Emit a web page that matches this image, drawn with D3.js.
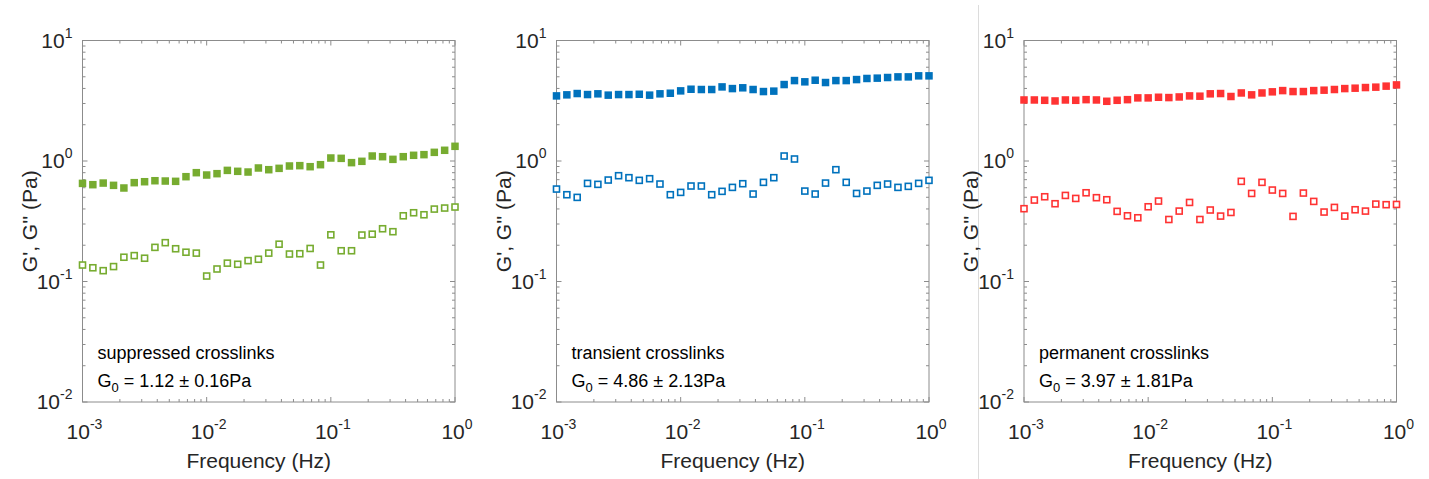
<!DOCTYPE html>
<html>
<head>
<meta charset="utf-8">
<script src="https://cdn.jsdelivr.net/npm/d3@7"></script>
<style>
  body { margin: 0; background: #fff; }
  svg { display: block; font-family: "Liberation Sans", Arial, Helvetica, sans-serif; }
</style>
</head>
<body>
<div id="chart"></div>
<script>
// ========== DATA ==========
// 37 log-spaced frequencies, 12 per decade from 1e-3 to 1e0 Hz
const freqExponents = d3.range(37).map(i => -3 + i / 12);
const yTickExps = [-2, -1, 0, 1];
const xTickExps = [-3, -2, -1, 0];

const suppressedG1 = [0.652, 0.636, 0.656, 0.628, 0.597, 0.661, 0.673, 0.686, 0.682, 0.678, 0.741, 0.800, 0.765, 0.785, 0.836, 0.821, 0.810, 0.875, 0.847, 0.869, 0.909, 0.915, 0.897, 0.932, 1.059, 1.052, 0.969, 0.994, 1.100, 1.086, 1.032, 1.086, 1.115, 1.129, 1.180, 1.227, 1.324];
const suppressedG2 = [0.137, 0.130, 0.123, 0.133, 0.159, 0.164, 0.156, 0.192, 0.210, 0.187, 0.175, 0.172, 0.111, 0.127, 0.142, 0.139, 0.149, 0.153, 0.172, 0.204, 0.169, 0.170, 0.188, 0.137, 0.244, 0.180, 0.180, 0.243, 0.247, 0.274, 0.259, 0.351, 0.372, 0.358, 0.399, 0.407, 0.415];

const transientG1 = [3.47, 3.54, 3.63, 3.56, 3.61, 3.52, 3.56, 3.56, 3.58, 3.52, 3.61, 3.65, 3.82, 3.94, 3.92, 3.92, 4.12, 3.99, 4.05, 3.92, 3.77, 3.80, 4.31, 4.65, 4.54, 4.68, 4.48, 4.65, 4.65, 4.74, 4.84, 4.87, 4.93, 4.99, 4.99, 5.09, 5.09];
const transientG2 = [0.585, 0.525, 0.499, 0.652, 0.640, 0.695, 0.755, 0.727, 0.691, 0.713, 0.644, 0.525, 0.549, 0.620, 0.620, 0.525, 0.560, 0.604, 0.648, 0.532, 0.665, 0.727, 1.100, 1.039, 0.563, 0.532, 0.656, 0.847, 0.665, 0.538, 0.563, 0.628, 0.644, 0.604, 0.616, 0.652, 0.691];

const permanentG1 = [3.21, 3.21, 3.19, 3.15, 3.21, 3.19, 3.23, 3.21, 3.13, 3.19, 3.23, 3.34, 3.34, 3.38, 3.36, 3.40, 3.47, 3.45, 3.61, 3.63, 3.43, 3.67, 3.54, 3.67, 3.75, 3.84, 3.77, 3.77, 3.84, 3.87, 3.92, 3.99, 4.02, 4.07, 4.10, 4.18, 4.28];
const permanentG2 = [0.402, 0.474, 0.505, 0.442, 0.518, 0.489, 0.545, 0.496, 0.477, 0.382, 0.351, 0.338, 0.417, 0.465, 0.327, 0.384, 0.453, 0.327, 0.392, 0.349, 0.374, 0.678, 0.538, 0.665, 0.574, 0.538, 0.347, 0.542, 0.462, 0.377, 0.412, 0.349, 0.394, 0.384, 0.439, 0.434, 0.436];

const panels = [
  { name: "suppressed crosslinks", g0: "1.12 ± 0.16Pa", color: "#77ac30", g1: suppressedG1, g2: suppressedG2, left: 82.5 },
  { name: "transient crosslinks",  g0: "4.86 ± 2.13Pa", color: "#0072bd", g1: transientG1,  g2: transientG2,  left: 556.5 },
  { name: "permanent crosslinks",  g0: "3.97 ± 1.81Pa", color: "#ff3333", g1: permanentG1,  g2: permanentG2,  left: 1024 }
];

// ========== LAYOUT ==========
const W = 1429, H = 479;
const plotTop = 40.5, plotH = 361.5, plotW = 372.5;
const axisColor = "#8c8c8c";
const textColor = "#262626";

const svg = d3.select("#chart").append("svg")
  .attr("width", W).attr("height", H);

// divider between panel 2 and 3
svg.append("line")
  .attr("x1", 978.5).attr("x2", 978.5)
  .attr("y1", 5).attr("y2", H)
  .attr("stroke", "#dcdcdc").attr("stroke-width", 1);

const minorVals = (lo, hi) => {
  const out = [];
  for (let e = lo; e < hi; e++) for (let m = 2; m <= 9; m++) out.push(m * Math.pow(10, e));
  return out;
};

panels.forEach(p => {
  const g = svg.append("g").attr("transform", `translate(${p.left},${plotTop})`);

  const x = d3.scaleLog().domain([1e-3, 1]).range([0, plotW]);
  const y = d3.scaleLog().domain([1e-2, 10]).range([plotH, 0]);

  // box
  g.append("rect")
    .attr("width", plotW).attr("height", plotH)
    .attr("fill", "none").attr("stroke", axisColor).attr("stroke-width", 1);

  // ticks (inside, all four sides)
  const majLen = 5, minLen = 3;
  const ticks = g.append("g").attr("stroke", axisColor).attr("stroke-width", 1);
  const yMaj = yTickExps.map(e => Math.pow(10, e));
  const xMaj = xTickExps.map(e => Math.pow(10, e));
  const yMin = minorVals(-2, 1);
  const xMin = minorVals(-3, 0);
  [[yMaj, majLen], [yMin, minLen]].forEach(([vals, len]) => {
    vals.forEach(v => {
      const yy = y(v);
      ticks.append("line").attr("x1", 0).attr("x2", len).attr("y1", yy).attr("y2", yy);
      ticks.append("line").attr("x1", plotW).attr("x2", plotW - len).attr("y1", yy).attr("y2", yy);
    });
  });
  [[xMaj, majLen], [xMin, minLen]].forEach(([vals, len]) => {
    vals.forEach(v => {
      const xx = x(v);
      ticks.append("line").attr("y1", plotH).attr("y2", plotH - len).attr("x1", xx).attr("x2", xx);
      ticks.append("line").attr("y1", 0).attr("y2", len).attr("x1", xx).attr("x2", xx);
    });
  });

  // y tick labels
  yTickExps.forEach(e => {
    const t = g.append("text")
      .attr("x", -10).attr("y", y(Math.pow(10, e)) + 7)
      .attr("text-anchor", "end")
      .attr("font-size", "21px").attr("fill", textColor);
    t.append("tspan").text("10");
    t.append("tspan").attr("dy", -10).attr("font-size", "14px").text(e);
  });

  // x tick labels
  xTickExps.forEach(e => {
    const t = g.append("text")
      .attr("x", x(Math.pow(10, e)) + 2).attr("y", plotH + 37)
      .attr("text-anchor", "middle")
      .attr("font-size", "21px").attr("fill", textColor);
    t.append("tspan").text("10");
    t.append("tspan").attr("dy", -10).attr("font-size", "14px").text(e);
  });

  // axis labels
  g.append("text")
    .attr("transform", `translate(${-46},${plotH / 2}) rotate(-90)`)
    .attr("text-anchor", "middle")
    .attr("font-size", "21px").attr("fill", textColor)
    .text("G', G'' (Pa)");
  g.append("text")
    .attr("x", plotW / 2 - 10).attr("y", plotH + 66)
    .attr("text-anchor", "middle")
    .attr("font-size", "21px").attr("fill", textColor)
    .text("Frequency (Hz)");

  // annotation
  g.append("text")
    .attr("x", 15).attr("y", 318)
    .attr("font-size", "18px").attr("fill", "#000")
    .text(p.name);
  const ann = g.append("text")
    .attr("x", 15).attr("y", 346)
    .attr("font-size", "18px").attr("fill", "#000");
  ann.append("tspan").text("G");
  ann.append("tspan").attr("dy", 5).attr("font-size", "13px").text("0");
  ann.append("tspan").attr("dy", -5).text(" = " + p.g0);

  // data
  const pts = freqExponents.map((fe, i) => ({ f: Math.pow(10, fe), g1: p.g1[i], g2: p.g2[i] }));
  const s1 = 7.5, s2 = 6;
  g.selectAll(".g1").data(pts).enter().append("rect")
    .attr("x", d => x(d.f) - s1 / 2).attr("y", d => y(d.g1) - s1 / 2)
    .attr("width", s1).attr("height", s1)
    .attr("fill", p.color);
  g.selectAll(".g2").data(pts).enter().append("rect")
    .attr("x", d => x(d.f) - s2 / 2).attr("y", d => y(d.g2) - s2 / 2)
    .attr("width", s2).attr("height", s2)
    .attr("fill", "#fff").attr("stroke", p.color).attr("stroke-width", 1.6);
});
</script>
</body>
</html>
